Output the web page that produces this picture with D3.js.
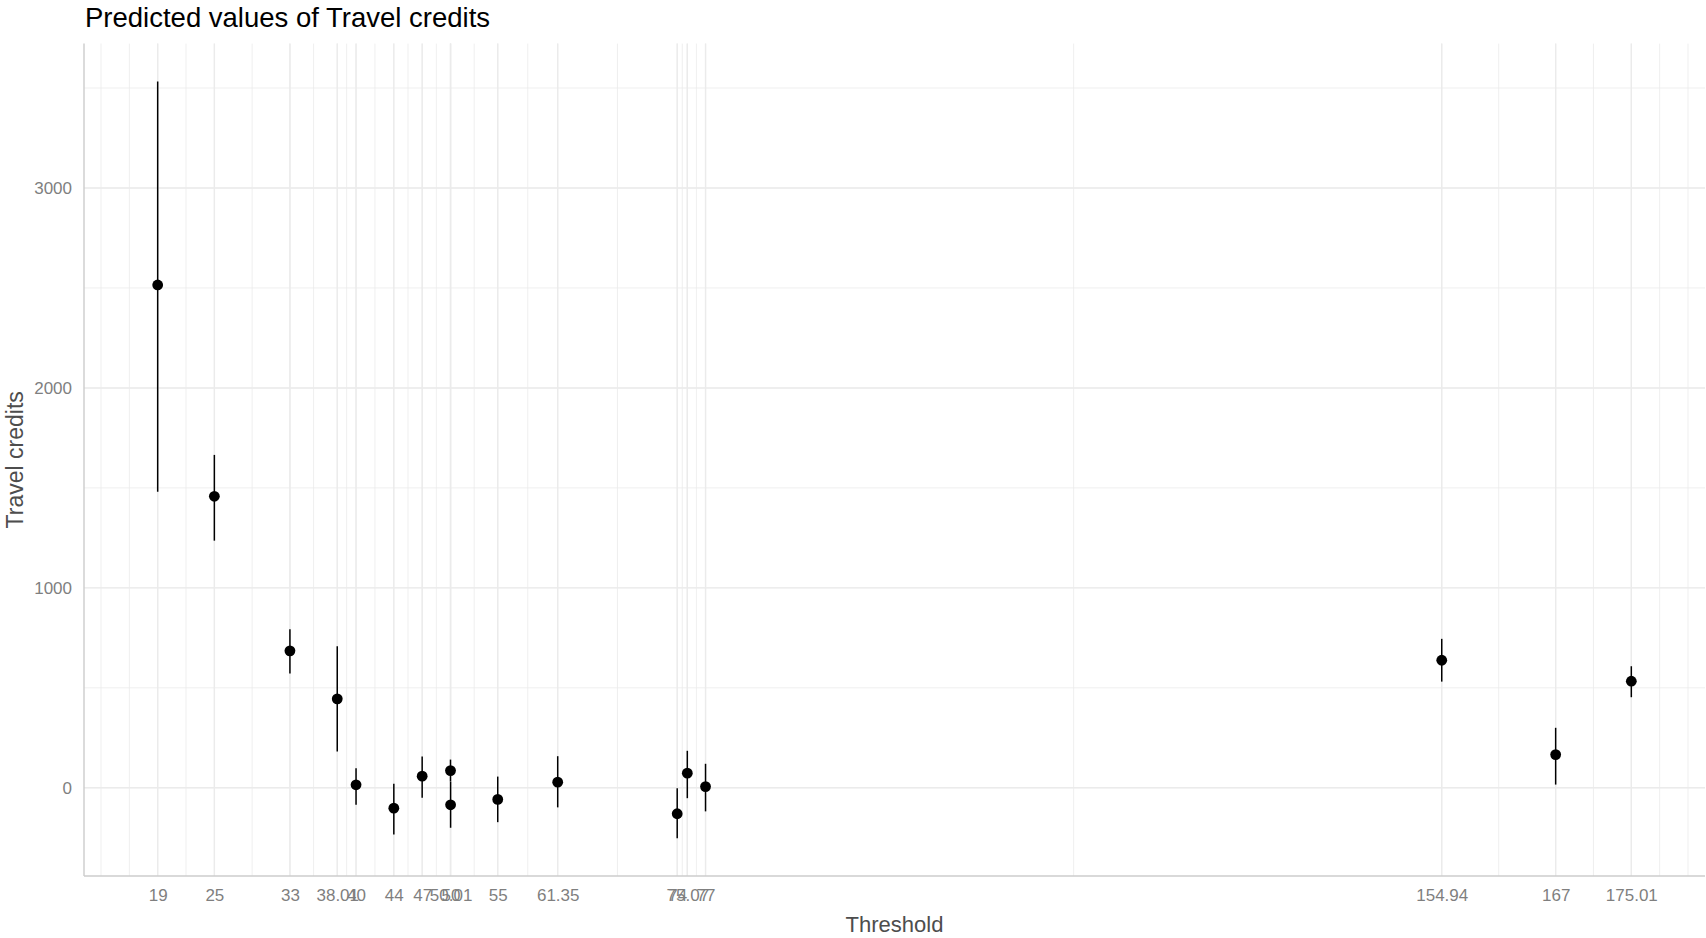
<!DOCTYPE html>
<html>
<head>
<meta charset="utf-8">
<script src="https://cdn.jsdelivr.net/npm/d3@7"></script>
<style>
  html, body { margin: 0; padding: 0; background: #ffffff; }
  svg { display: block; font-family: "Liberation Sans", Arial, sans-serif; }
</style>
</head>
<body>
<svg id="chart" width="1706" height="938"></svg>
<script>
// Threshold values (x) and their tick labels
const thresholdLabels = ["19", "25", "33", "38.01", "40", "44", "47", "50", "50.01", "55",
  "61.35", "74", "75.07", "77", "154.94", "167", "175.01"];
const thresholds = [19, 25, 33, 38.01, 40, 44, 47, 50, 50.01, 55,
  61.35, 74, 75.07, 77, 154.94, 167, 175.01];

// Predicted travel credits and confidence interval bounds
const predicted = [2515, 1458, 685, 445, 15, -102, 58, 86, -85, -58, 28, -130, 73, 6, 638, 166, 533];
const ciLow = [1481, 1236, 571, 181, -85, -234, -50, 31, -200, -172, -98, -252, -52, -118, 531, 16, 453];
const ciHigh = [3533, 1665, 793, 708, 98, 20, 156, 141, 30, 56, 158, -2, 185, 120, 745, 300, 608];

// Y axis breaks
const yTicks = [0, 1000, 2000, 3000];

const titleText = "Predicted values of Travel credits";
const xTitle = "Threshold";
const yTitle = "Travel credits";

const data = thresholds.map((x, i) => ({ x, y: predicted[i], lo: ciLow[i], hi: ciHigh[i] }));

const svg = d3.select("#chart");
const panel = { left: 84, right: 1705, top: 43.6, bottom: 876 };

// 5% expansion of the data range on both axes
function expand(lo, hi, f = 0.05) {
  const d = (hi - lo) * f;
  return [lo - d, hi + d];
}
const xDom = expand(d3.min(thresholds), d3.max(thresholds));
const yDom = expand(d3.min(ciLow), d3.max(ciHigh));

const x = d3.scaleLinear().domain(xDom).range([panel.left, panel.right]);
const y = d3.scaleLinear().domain(yDom).range([panel.bottom, panel.top]);

// Minor breaks: midpoints between major breaks, extended one step beyond each end
function minorBreaks(b, dom) {
  const bd = b[1] - b[0];
  let ext = b.slice();
  if (dom[0] < b[0]) ext = [b[0] - bd].concat(ext);
  if (dom[1] > b[b.length - 1]) ext = ext.concat([b[b.length - 1] + bd]);
  const out = [];
  for (let i = 0; i < ext.length - 1; i++) {
    out.push(ext[i], (ext[i] + ext[i + 1]) / 2);
  }
  out.push(ext[ext.length - 1]);
  return out.filter(v => v >= dom[0] && v <= dom[1]);
}

const grid = svg.append("g");
const gridColor = "#EBEBEB";

// minor grid
grid.selectAll(".xminor").data(minorBreaks(thresholds, xDom)).join("line")
  .attr("x1", d => x(d)).attr("x2", d => x(d))
  .attr("y1", panel.top).attr("y2", panel.bottom)
  .attr("stroke", gridColor).attr("stroke-width", 0.8);
grid.selectAll(".yminor").data(minorBreaks(yTicks, yDom)).join("line")
  .attr("y1", d => y(d)).attr("y2", d => y(d))
  .attr("x1", panel.left).attr("x2", panel.right)
  .attr("stroke", gridColor).attr("stroke-width", 0.8);

// major grid
grid.selectAll(".xmajor").data(thresholds).join("line")
  .attr("x1", d => x(d)).attr("x2", d => x(d))
  .attr("y1", panel.top).attr("y2", panel.bottom)
  .attr("stroke", gridColor).attr("stroke-width", 1.4);
grid.selectAll(".ymajor").data(yTicks).join("line")
  .attr("y1", d => y(d)).attr("y2", d => y(d))
  .attr("x1", panel.left).attr("x2", panel.right)
  .attr("stroke", gridColor).attr("stroke-width", 1.4);

// axis lines
svg.append("line")
  .attr("x1", panel.left).attr("x2", panel.left)
  .attr("y1", panel.top).attr("y2", panel.bottom)
  .attr("stroke", "#CCCCCC").attr("stroke-width", 1.4);
svg.append("line")
  .attr("x1", panel.left).attr("x2", panel.right)
  .attr("y1", panel.bottom).attr("y2", panel.bottom)
  .attr("stroke", "#CCCCCC").attr("stroke-width", 1.4);

// x axis tick labels
const xAxis = d3.axisBottom(x)
  .tickValues(thresholds)
  .tickFormat((d, i) => thresholdLabels[i])
  .tickSize(0)
  .tickPadding(13);
const gx = svg.append("g").attr("transform", `translate(0,${panel.bottom})`).call(xAxis);
gx.select(".domain").remove();
gx.selectAll("text")
  .attr("fill", "#7F7F7F")
  .style("font-size", "17px")
  .style("font-family", "'Liberation Sans', Arial, sans-serif");

// y axis tick labels
const yAxis = d3.axisLeft(y)
  .tickValues(yTicks)
  .tickFormat(d3.format("d"))
  .tickSize(0)
  .tickPadding(12);
const gy = svg.append("g").attr("transform", `translate(${panel.left},0)`).call(yAxis);
gy.select(".domain").remove();
gy.selectAll("text")
  .attr("fill", "#7F7F7F")
  .style("font-size", "17px")
  .style("font-family", "'Liberation Sans', Arial, sans-serif");

// confidence intervals
svg.append("g").selectAll("line").data(data).join("line")
  .attr("x1", d => x(d.x)).attr("x2", d => x(d.x))
  .attr("y1", d => y(d.lo)).attr("y2", d => y(d.hi))
  .attr("stroke", "#000").attr("stroke-width", 1.5);

// predicted values
svg.append("g").selectAll("circle").data(data).join("circle")
  .attr("cx", d => x(d.x)).attr("cy", d => y(d.y))
  .attr("r", 5.4)
  .attr("fill", "#000");

// titles
svg.append("text")
  .attr("x", panel.left + 1).attr("y", 27)
  .attr("fill", "#000")
  .style("font-size", "27.5px")
  .text(titleText);

svg.append("text")
  .attr("x", (panel.left + panel.right) / 2).attr("y", 932)
  .attr("text-anchor", "middle")
  .attr("fill", "#4D4D4D")
  .style("font-size", "22px")
  .text(xTitle);

svg.append("text")
  .attr("transform", `translate(23,${(panel.top + panel.bottom) / 2}) rotate(-90)`)
  .attr("text-anchor", "middle")
  .attr("fill", "#4D4D4D")
  .style("font-size", "23px")
  .text(yTitle);
</script>
</body>
</html>
